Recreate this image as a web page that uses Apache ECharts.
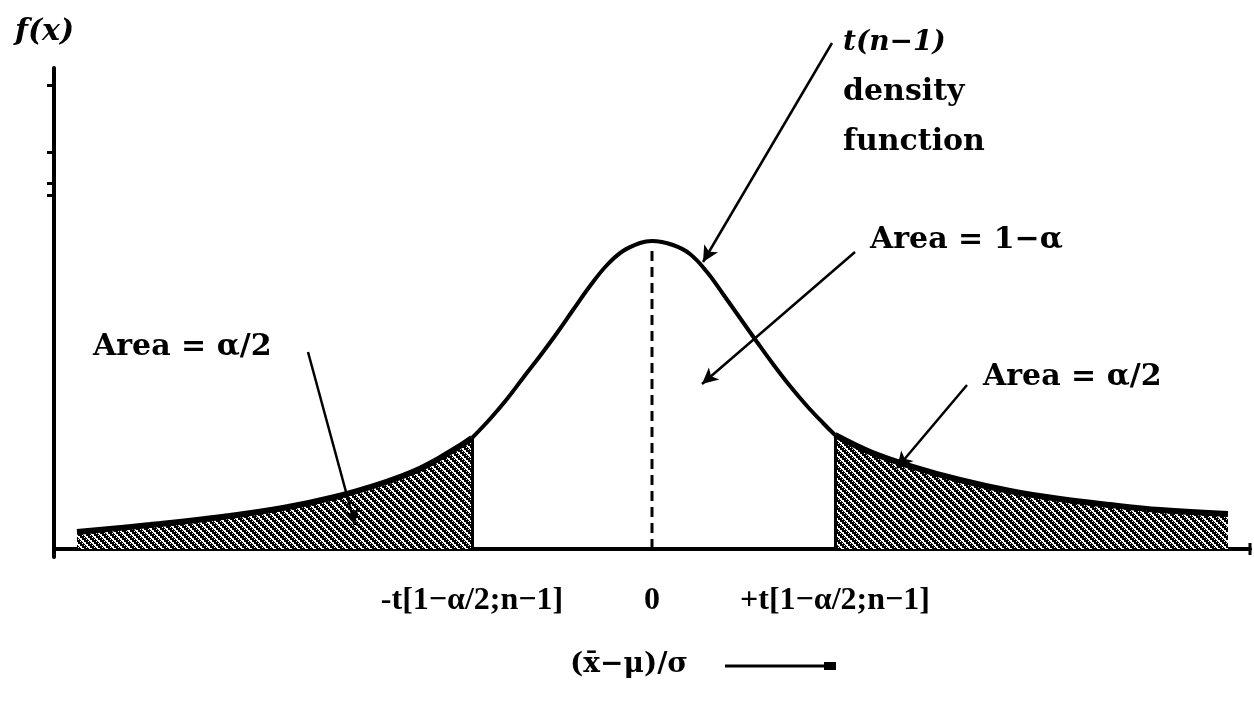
<!DOCTYPE html>
<html>
<head>
<meta charset="utf-8">
<title>t(n-1) density</title>
<script src="https://cdn.jsdelivr.net/npm/echarts@6/dist/echarts.min.js"></script>
<style>
    html, body { margin: 0; padding: 0; background: #fff; }
    #chart { width: 1254px; height: 701px; }
</style>
</head>
<body>
<div id="chart"></div>
<script>
// curve (x in t units, y = height of the density)
var leftTailX = [-5.75, -5.02, -4.30, -3.69, -3.17, -2.69, -2.37, -2.12, -1.92, -1.80];
var leftTailY = [0.17, 0.24, 0.32, 0.41, 0.52, 0.66, 0.78, 0.91, 1.03, 1.11];
var bodyX = [-1.80, -1.62, -1.45, -1.29, -1.12, -0.95, -0.79, -0.62, -0.45, -0.29, -0.12, 0,
             0.21, 0.38, 0.55, 0.71, 0.88, 1.05, 1.21, 1.38, 1.55, 1.71, 1.83];
var bodyY = [1.11, 1.30, 1.50, 1.71, 1.93, 2.16, 2.39, 2.63, 2.84, 2.98, 3.06, 3.08,
             3.04, 2.95, 2.77, 2.55, 2.31, 2.07, 1.85, 1.63, 1.43, 1.26, 1.14];
var rightTailX = [1.83, 2.18, 2.58, 3.08, 3.58, 4.08, 4.58, 5.08, 5.76];
var rightTailY = [1.14, 0.97, 0.83, 0.69, 0.58, 0.50, 0.44, 0.39, 0.35];

var tickValues = [-1.80, 0, 1.83];
var tickLabels = ['-t[1−α/2;n−1]', '0', '+t[1−α/2;n−1]'];
var yTicks = [4.64, 3.97, 3.66, 3.54];

// leader lines: [from x, from y, to x, to y]
var pointers = [
    [1.80, 5.06, 0.51, 2.87],
    [2.03, 2.97, 0.50, 1.65],
    [-3.44, 1.97, -2.97, 0.24],
    [3.15, 1.64, 2.45, 0.81]
];

function zip(xs, ys) {
    var out = [];
    for (var i = 0; i < xs.length; i++) out.push([xs[i], ys[i]]);
    return out;
}

// chunky diagonal hatching like the scanned figure
function hatch() {
    var n = 8;
    var c = document.createElement('canvas');
    c.width = n; c.height = n;
    var ctx = c.getContext('2d');
    ctx.fillStyle = '#fff';
    ctx.fillRect(0, 0, n, n);
    ctx.fillStyle = '#000';
    for (var y = 0; y < n; y++) {
        for (var x = 0; x < n; x++) {
            var d = (Math.floor(x / 2) - Math.floor(y / 2) + 4) % 4;
            if (d < 2 || (d === 2 && (x + y) % 2 === 0)) ctx.fillRect(x, y, 1, 1);
        }
    }
    return c;
}

var pattern = { image: hatch(), repeat: 'repeat' };
var bold = 'bold 30px "DejaVu Serif"';

function label(text, x, y, font) {
    return {
        type: 'text', x: x, y: y, silent: true,
        style: { text: text, fill: '#000', font: font || bold, verticalAlign: 'middle' }
    };
}

function cutEdge(x, y) {
    return {
        silent: true, symbol: 'none', label: { show: false },
        lineStyle: { color: '#000', width: 3, type: 'solid' },
        data: [[{ coord: [x, 0] }, { coord: [x, y] }]]
    };
}

var myChart = echarts.init(document.getElementById('chart'));

var option = {
    animation: false,
    backgroundColor: '#fff',
    grid: [
        { left: 54, right: 4, top: 68, bottom: 144 },
        // same scale, full height, only for the leader lines
        { left: 54, right: 4, top: 0, bottom: 144 }
    ],
    xAxis: [{
        type: 'value',
        gridIndex: 0,
        min: -5.98,
        max: 5.98,
        axisLine: {
            onZero: true,
            symbol: ['none', 'rect'],
            symbolSize: [12, 3],
            lineStyle: { color: '#000', width: 4 }
        },
        axisTick: { show: false },
        splitLine: { show: false },
        axisLabel: {
            customValues: tickValues,
            margin: 28,
            color: '#000',
            fontSize: 32,
            fontWeight: 'bold',
            fontFamily: 'Liberation Serif',
            formatter: function (v) {
                for (var i = 0; i < tickValues.length; i++) {
                    if (Math.abs(tickValues[i] - v) < 1e-6) return tickLabels[i];
                }
                return '';
            }
        }
    }, {
        type: 'value', gridIndex: 1, min: -5.98, max: 5.98, show: false
    }],
    yAxis: [{
        type: 'value',
        gridIndex: 0,
        min: -0.08,
        max: 4.81,
        axisLine: { show: true, onZero: false, lineStyle: { color: '#000', width: 4 } },
        axisTick: { show: true, customValues: yTicks, length: 7, lineStyle: { color: '#000', width: 3 } },
        axisLabel: { show: false },
        splitLine: { show: false }
    }, {
        type: 'value', gridIndex: 1, min: -0.08, max: 5.49, show: false
    }],
    series: [
        {
            name: 'left tail',
            type: 'line',
            data: zip(leftTailX, leftTailY),
            showSymbol: false,
            smooth: 0.4,
            lineStyle: { color: '#000', width: 6 },
            areaStyle: { color: pattern, opacity: 1 },
            markLine: cutEdge(leftTailX[leftTailX.length - 1], leftTailY[leftTailY.length - 1])
        },
        {
            name: 'right tail',
            type: 'line',
            data: zip(rightTailX, rightTailY),
            showSymbol: false,
            smooth: 0.4,
            lineStyle: { color: '#000', width: 6 },
            areaStyle: { color: pattern, opacity: 1 },
            markLine: cutEdge(rightTailX[0], rightTailY[0])
        },
        {
            name: 't(n-1)',
            type: 'line',
            data: zip(bodyX, bodyY),
            showSymbol: false,
            smooth: 0.4,
            lineStyle: { color: '#000', width: 4 }
        },
        {
            name: 'centre',
            type: 'line',
            data: [[0, 0], [0, 3.0]],
            showSymbol: false,
            lineStyle: { color: '#000', width: 3, type: [10, 6] }
        },
        {
            name: 'pointers',
            type: 'line',
            xAxisIndex: 1,
            yAxisIndex: 1,
            data: [],
            markLine: {
                silent: true,
                symbol: ['none', 'arrow'],
                symbolSize: [12, 16],
                label: { show: false },
                lineStyle: { color: '#000', width: 2.5, type: 'solid' },
                data: pointers.map(function (p) {
                    return [{ coord: [p[0], p[1]] }, { coord: [p[2], p[3]] }];
                })
            }
        }
    ],
    graphic: [
        label('f(x)', 15, 32, 'italic bold 30px "DejaVu Serif"'),
        label('t(n−1)', 843, 43, 'italic bold 28px "DejaVu Serif"'),
        label('density', 843, 92),
        label('function', 843, 142),
        label('Area = 1−α', 870, 240),
        label('Area = α/2', 93, 347),
        label('Area = α/2', 983, 377),
        label('(x̄−μ)/σ', 570, 665, 'bold 28px "DejaVu Serif"'),
        { type: 'line', silent: true, shape: { x1: 725, y1: 666, x2: 832, y2: 666 }, style: { stroke: '#000', lineWidth: 3 } },
        { type: 'rect', silent: true, shape: { x: 824, y: 662, width: 12, height: 8 }, style: { fill: '#000' } }
    ]
};

myChart.setOption(option);
</script>
</body>
</html>
